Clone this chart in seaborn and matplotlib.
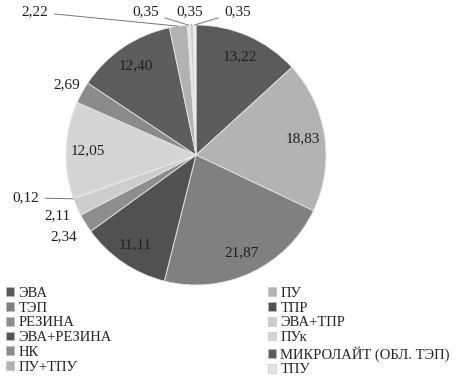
import numpy as np
import matplotlib
matplotlib.use("Agg")
import matplotlib.pyplot as plt
import seaborn as sns
from matplotlib.patches import Patch

# data (clockwise from 12 o'clock)
categories = ["ЭВА", "ПУ", "ТЭП", "ТПР", "РЕЗИНА", "ЭВА+ТПР", "ЭВА+РЕЗИНА",
              "ПУк", "НК", "МИКРОЛАЙТ (ОБЛ. ТЭП)", "ПУ+ТПУ", "ТПУ", "", ""]
values = [13.22, 18.83, 21.87, 11.11, 2.34, 2.11, 0.12,
          12.05, 2.69, 12.40, 2.22, 0.35, 0.35, 0.35]
labels = ["13,22", "18,83", "21,87", "11,11", "2,34", "2,11", "0,12",
          "12,05", "2,69", "12,40", "2,22", "0,35", "0,35", "0,35"]
colors = ["#5b5b5b", "#b3b3b3", "#808080", "#515151", "#8e8e8e", "#cdcdcd", "#555555",
          "#d5d5d5", "#8b8b8b", "#5d5d5d", "#b2b2b2", "#e4e4e4", "#c9c9c9", "#efefef"]

sns.set_theme(style="white")
plt.rcParams['font.family'] = ['Liberation Serif', 'DejaVu Serif']
plt.rcParams['font.size'] = 11

fig = plt.figure(figsize=(4.61, 3.83), dpi=100)
# pie centre ~ (196,155) px, radius ~130 px
ax = fig.add_axes([66 / 461, (383 - 155 - 130) / 383, 260 / 461, 260 / 383])

wedges, _ = ax.pie(values, colors=colors, startangle=90, counterclock=False,
                   radius=1.0, wedgeprops=dict(edgecolor="#e8e8e8", linewidth=0.6))
ax.set_xlim(-1, 1)
ax.set_ylim(-1, 1)
ax.set_aspect("equal")
ax.axis("off")

inside = {0, 1, 2, 3, 7, 9}
near = {4: 1.2, 5: 1.16, 8: 1.13}
# leader-line labels: text position in data units
leader = {6: (-1.31, -0.33), 10: (-1.24, 1.1), 11: (-0.39, 1.1),
          12: (-0.05, 1.1), 13: (0.32, 1.1)}

for i, w in enumerate(wedges):
    mid = np.deg2rad((w.theta1 + w.theta2) / 2)
    c, s = np.cos(mid), np.sin(mid)
    if i in inside:
        ax.text(0.83 * c, 0.83 * s, labels[i], ha="center", va="center",
                fontsize=11, color="#1e1e1e")
    elif i in near:
        r = near[i]
        ax.text(r * c, r * s, labels[i], ha="center", va="center",
                fontsize=11, color="#1e1e1e")
    else:
        tx, ty = leader[i]
        ax.annotate(labels[i], xy=(c, s), xytext=(tx, ty), ha="center", va="center",
                    fontsize=11, color="#1e1e1e", annotation_clip=False,
                    arrowprops=dict(arrowstyle="-", color="#777777", lw=0.7,
                                    shrinkA=2, shrinkB=0))

# legend: two columns, row-major order like the original
handles = [Patch(facecolor=colors[i], edgecolor="#bbbbbb", linewidth=0.4)
           for i in range(12)]
left_idx = [0, 2, 4, 6, 8, 10]
right_idx = [1, 3, 5, 7, 9, 11]
leg_kw = dict(frameon=False, fontsize=10.5, handlelength=0.55, handleheight=0.55,
              handletextpad=0.3, labelspacing=0.12, borderpad=0, borderaxespad=0,
              loc="upper left")
leg1 = fig.legend([handles[i] for i in left_idx], [categories[i] for i in left_idx],
                  bbox_to_anchor=(6 / 461, 1 - 287 / 383), **leg_kw)
leg2 = fig.legend([handles[i] for i in right_idx], [categories[i] for i in right_idx],
                  bbox_to_anchor=(268 / 461, 1 - 287 / 383), **leg_kw)

fig.savefig("out.png", dpi=100)
